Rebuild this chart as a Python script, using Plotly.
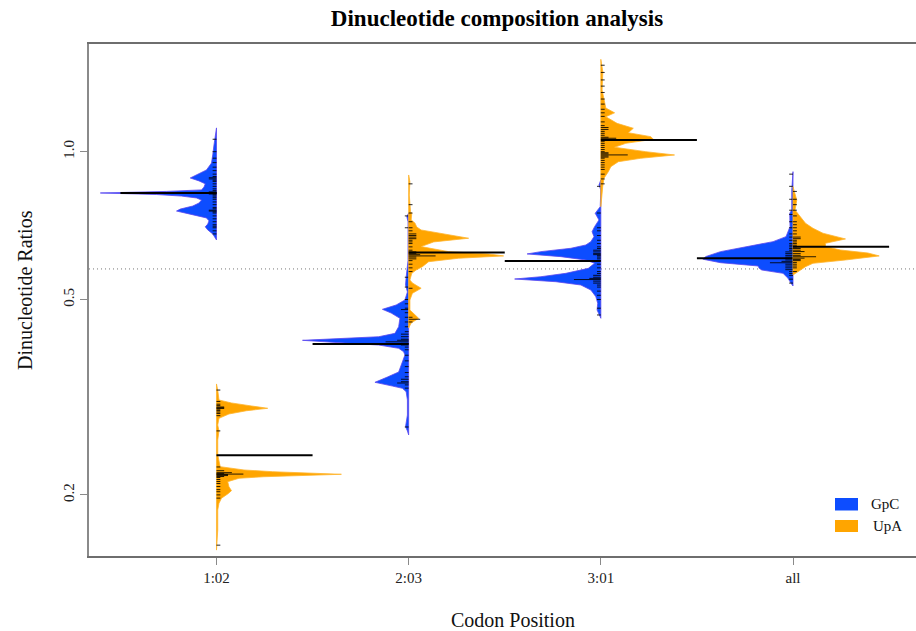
import plotly.graph_objects as go

# ---------------- data ----------------
categories = ["1:02", "2:03", "3:01", "all"]
series_names = ["GpC", "UpA"]

# density profiles (ratio value, relative density), top -> bottom
gpc_1_y = [1.118, 1.081, 1.032, 0.985, 0.948, 0.918, 0.897, 0.884, 0.872, 0.860, 0.847, 0.836, 0.830, 0.824,
           0.818, 0.812, 0.805, 0.797, 0.786, 0.775, 0.764, 0.757, 0.747, 0.733, 0.723, 0.712, 0.703, 0.693,
           0.680, 0.667, 0.661]
gpc_1_d = [0.0, 0.01, 0.02, 0.03, 0.04, 0.08, 0.16, 0.21, 0.14, 0.09, 0.10, 0.12, 0.40, 0.93,
           0.48, 0.28, 0.16, 0.12, 0.14, 0.19, 0.29, 0.32, 0.22, 0.08, 0.06, 0.07, 0.09, 0.07,
           0.03, 0.01, 0.0]

upa_1_y = [0.3365, 0.327, 0.3121, 0.3078, 0.3035, 0.3002, 0.2968, 0.2923, 0.2864, 0.2776, 0.2699, 0.2587,
           0.2412, 0.2283, 0.2248, 0.2230, 0.2203, 0.2178, 0.2162, 0.2128, 0.2078, 0.2040, 0.2009, 0.1969,
           0.1923, 0.1864, 0.1696, 0.1544]
upa_1_d = [0.0, 0.01, 0.02, 0.12, 0.28, 0.41, 0.24, 0.10, 0.02, 0.01, 0.02, 0.01,
           0.01, 0.03, 0.22, 0.45, 1.00, 0.38, 0.18, 0.09, 0.10, 0.12, 0.09, 0.04,
           0.02, 0.01, 0.01, 0.0]

gpc_2_y = [0.75, 0.7375, 0.72, 0.60, 0.5556, 0.5353, 0.518, 0.4989, 0.4873, 0.4775, 0.4693, 0.4578, 0.4401,
           0.4266, 0.4199, 0.4129, 0.4071, 0.4039, 0.3977, 0.3914, 0.3853, 0.3735, 0.3648, 0.3559, 0.3476,
           0.3391, 0.3332, 0.3297, 0.3245, 0.3121, 0.2909, 0.2754, 0.2699, 0.2649]
gpc_2_d = [0.0, 0.015, 0.005, 0.005, 0.02, 0.025, 0.01, 0.03, 0.10, 0.21, 0.14, 0.07, 0.08,
           0.11, 0.24, 0.85, 0.48, 0.24, 0.08, 0.04, 0.03, 0.05, 0.06, 0.08, 0.17,
           0.27, 0.13, 0.05, 0.02, 0.01, 0.01, 0.025, 0.01, 0.0]

upa_2_y = [0.8965, 0.8687, 0.8161, 0.779, 0.7549, 0.7491, 0.726, 0.7159, 0.7025, 0.6927, 0.6822, 0.6664,
           0.655, 0.6407, 0.6258, 0.6191, 0.6134, 0.6068, 0.597, 0.5832, 0.5742, 0.5653, 0.5479, 0.5403,
           0.527, 0.5147, 0.4989, 0.476, 0.4578, 0.4478, 0.4374]
upa_2_d = [0.0, 0.01, 0.005, 0.01, 0.015, 0.025, 0.02, 0.05, 0.065, 0.10, 0.25, 0.48,
           0.20, 0.10, 0.32, 0.64, 0.76, 0.40, 0.16, 0.11, 0.06, 0.025, 0.01, 0.03,
           0.10, 0.03, 0.01, 0.01, 0.08, 0.02, 0.0]

gpc_3_y = [0.8757, 0.8556, 0.8356, 0.7727, 0.7491, 0.726, 0.7036, 0.6873, 0.6714, 0.6558, 0.6457, 0.6357,
           0.6258, 0.6191, 0.6113, 0.6018, 0.5925, 0.5787, 0.5653, 0.5564, 0.5504, 0.5435, 0.5352, 0.5228,
           0.5067, 0.4912, 0.476, 0.4578]
gpc_3_d = [0.0, 0.015, 0.0, 0.005, 0.045, 0.015, 0.05, 0.07, 0.055, 0.08, 0.12, 0.24,
           0.48, 0.59, 0.32, 0.12, 0.05, 0.10, 0.28, 0.48, 0.69, 0.36, 0.16, 0.08,
           0.04, 0.025, 0.03, 0.0]

upa_3_y = [1.542, 1.455, 1.336, 1.274, 1.255, 1.227, 1.200, 1.178, 1.142, 1.116, 1.093, 1.073, 1.060,
           1.040, 1.021, 1.000, 0.9847, 0.9696, 0.9541, 0.9321, 0.9106, 0.8827, 0.8486, 0.7727]
upa_3_d = [0.0, 0.016, 0.01, 0.024, 0.032, 0.04, 0.11, 0.04, 0.13, 0.26, 0.22, 0.40, 0.42,
           0.20, 0.11, 0.36, 0.59, 0.32, 0.14, 0.08, 0.06, 0.025, 0.015, 0.0]

gpc_4_y = [0.9106, 0.8356, 0.7609, 0.7491, 0.7036, 0.6714, 0.6558, 0.6407, 0.6258, 0.6113, 0.6038, 0.5942,
           0.5851, 0.5787, 0.5742, 0.5653, 0.5523, 0.5395, 0.5327]
gpc_4_d = [0.0, 0.01, 0.01, 0.026, 0.024, 0.056, 0.16, 0.38, 0.58, 0.70, 0.72, 0.58,
           0.28, 0.27, 0.25, 0.08, 0.04, 0.016, 0.0]

upa_4_y = [0.8486, 0.797, 0.7609, 0.7375, 0.7148, 0.6982, 0.6822, 0.6642, 0.6508, 0.6407, 0.6306, 0.6218,
           0.6134, 0.6018, 0.5925, 0.5832, 0.5742, 0.5609]
upa_4_d = [0.0, 0.03, 0.016, 0.056, 0.10, 0.16, 0.24, 0.42, 0.26, 0.26, 0.38, 0.60,
           0.69, 0.42, 0.16, 0.10, 0.06, 0.0]

# individual observations (bean lines) and how many share each value
gpc_1_obs = [1.06, 1.00, 0.97, 0.95, 0.93, 0.915, 0.90, 0.89, 0.885, 0.88, 0.875, 0.87, 0.86, 0.85, 0.84,
             0.833, 0.828, 0.826, 0.824, 0.822, 0.82, 0.817, 0.812, 0.806, 0.80, 0.79, 0.78, 0.77, 0.765,
             0.76, 0.757, 0.754, 0.75, 0.74, 0.73, 0.72, 0.71, 0.705, 0.70, 0.69, 0.68]
gpc_1_cnt = [1, 1, 1, 1, 1, 1, 1, 1, 2, 2, 1, 1, 1, 1, 1,
             1, 2, 2, 3, 2, 2, 1, 1, 1, 1, 1, 1, 1, 1,
             2, 2, 1, 1, 1, 1, 1, 1, 1, 1, 1, 1]
upa_1_obs = [0.327, 0.310, 0.306, 0.304, 0.302, 0.301, 0.300, 0.299, 0.297, 0.295, 0.293, 0.290, 0.270,
             0.228, 0.224, 0.222, 0.221, 0.2205, 0.220, 0.219, 0.218, 0.217, 0.215, 0.213, 0.211, 0.208,
             0.205, 0.203, 0.200, 0.197, 0.158]
upa_1_cnt = [1, 1, 1, 1, 2, 2, 2, 1, 1, 1, 1, 1, 1,
             1, 2, 4, 2, 7, 3, 3, 2, 1, 1, 1, 1, 1,
             1, 1, 1, 1, 1]
gpc_2_obs = [0.74, 0.70, 0.555, 0.53, 0.50, 0.49, 0.48, 0.477, 0.47, 0.46, 0.45, 0.44, 0.43, 0.425, 0.42,
             0.415, 0.413, 0.410, 0.407, 0.404, 0.40, 0.395, 0.385, 0.375, 0.365, 0.355, 0.348, 0.344,
             0.340, 0.338, 0.335, 0.33, 0.275]
gpc_2_cnt = [1, 1, 1, 1, 1, 1, 1, 2, 1, 1, 1, 1, 1, 2, 2,
             2, 3, 6, 2, 2, 1, 1, 1, 1, 1, 1, 1, 2,
             2, 3, 1, 1, 1]
upa_2_obs = [0.86, 0.78, 0.75, 0.72, 0.70, 0.69, 0.68, 0.675, 0.67, 0.665, 0.66, 0.655, 0.65, 0.64, 0.63,
             0.625, 0.62, 0.617, 0.6134, 0.61, 0.605, 0.60, 0.59, 0.58, 0.57, 0.527, 0.46, 0.4557, 0.45]
upa_2_cnt = [1, 1, 1, 1, 1, 1, 2, 2, 2, 2, 1, 1, 1, 1, 1,
             2, 2, 3, 7, 2, 2, 1, 1, 1, 1, 1, 1, 3, 1]
gpc_3_obs = [0.85, 0.75, 0.70, 0.69, 0.675, 0.66, 0.65, 0.64, 0.635, 0.63, 0.625, 0.62, 0.617, 0.614,
             0.61, 0.605, 0.60, 0.59, 0.58, 0.57, 0.565, 0.56, 0.555, 0.552, 0.549, 0.545, 0.54, 0.535,
             0.53, 0.52, 0.51, 0.50, 0.48, 0.465]
gpc_3_cnt = [1, 1, 1, 1, 1, 1, 1, 1, 1, 2, 2, 2, 2, 1,
             1, 1, 1, 1, 1, 1, 1, 2, 2, 3, 7, 2, 2, 1,
             1, 1, 1, 1, 1, 1]
upa_3_obs = [1.50, 1.45, 1.40, 1.36, 1.32, 1.28, 1.25, 1.22, 1.20, 1.18, 1.15, 1.13, 1.12, 1.11, 1.10,
             1.09, 1.08, 1.07, 1.065, 1.06, 1.05, 1.04, 1.03, 1.02, 1.01, 1.00, 0.995, 0.99, 0.985,
             0.98, 0.975, 0.97, 0.96, 0.95, 0.94, 0.93, 0.92, 0.90, 0.88, 0.86]
upa_3_cnt = [1, 1, 1, 1, 1, 1, 1, 1, 1, 1, 1, 1, 2, 2, 1,
             1, 1, 2, 4, 2, 1, 1, 1, 1, 1, 1, 2, 2, 7,
             2, 2, 1, 1, 1, 1, 1, 1, 1, 1, 1]
gpc_4_obs = [0.90, 0.85, 0.80, 0.76, 0.745, 0.72, 0.70, 0.68, 0.67, 0.66, 0.65, 0.645, 0.64, 0.635, 0.63,
             0.625, 0.62, 0.615, 0.61, 0.606, 0.602, 0.598, 0.594, 0.59, 0.585, 0.58, 0.575, 0.57, 0.565,
             0.56, 0.55, 0.54]
gpc_4_cnt = [1, 1, 1, 1, 1, 1, 1, 1, 1, 1, 1, 1, 1, 1, 1,
             2, 2, 2, 2, 2, 2, 3, 6, 2, 2, 2, 2, 1, 1,
             1, 1, 1]
upa_4_obs = [0.83, 0.80, 0.78, 0.76, 0.74, 0.72, 0.71, 0.70, 0.69, 0.68, 0.67, 0.665, 0.66, 0.655, 0.65,
             0.645, 0.64, 0.635, 0.63, 0.626, 0.62, 0.615, 0.611, 0.607, 0.603, 0.60, 0.595, 0.59, 0.585,
             0.58, 0.57]
upa_4_cnt = [1, 1, 1, 1, 1, 1, 1, 1, 1, 1, 2, 2, 1, 1, 1,
             1, 1, 2, 2, 3, 2, 2, 6, 3, 2, 2, 1, 1, 1,
             1, 1]

gpc_means = [0.824, 0.406, 0.599, 0.607]
upa_means = [0.241, 0.623, 1.056, 0.640]
overall_mean = 0.577

y_ticks = [0.2, 0.5, 1.0]
y_tick_labels = ["0.2", "0.5", "1.0"]

# ---------------- styling ----------------
FONT = "Liberation Serif, Times New Roman, serif"
BLUE = "#0d4dff"
BLUE_EDGE = "#5a46f0"
ORANGE = "#ffa500"
ORANGE_EDGE = "#ffb52e"
WIDTH = 0.65      # x-units for relative density 1.0
UNIT = 0.02       # bean line length per observation
MEAN_LEN = 0.5
X_RANGE = [0.3366, 4.64]
Y_RANGE = [-0.8234, 0.2193]

gpc_profiles = [(gpc_1_y, gpc_1_d), (gpc_2_y, gpc_2_d), (gpc_3_y, gpc_3_d), (gpc_4_y, gpc_4_d)]
upa_profiles = [(upa_1_y, upa_1_d), (upa_2_y, upa_2_d), (upa_3_y, upa_3_d), (upa_4_y, upa_4_d)]
gpc_lines = [(gpc_1_obs, gpc_1_cnt), (gpc_2_obs, gpc_2_cnt), (gpc_3_obs, gpc_3_cnt), (gpc_4_obs, gpc_4_cnt)]
upa_lines = [(upa_1_obs, upa_1_cnt), (upa_2_obs, upa_2_cnt), (upa_3_obs, upa_3_cnt), (upa_4_obs, upa_4_cnt)]

fig = go.Figure()

# overall mean (dotted)
fig.add_trace(go.Scatter(x=X_RANGE, y=[overall_mean, overall_mean], mode="lines",
                         line=dict(color="#777777", width=1, dash="1px,3px"),
                         hoverinfo="skip", showlegend=False))

for side, profiles, lines, means, fill, edge, name in [
        (-1, gpc_profiles, gpc_lines, gpc_means, BLUE, BLUE_EDGE, series_names[0]),
        (1, upa_profiles, upa_lines, upa_means, ORANGE, ORANGE_EDGE, series_names[1])]:
    for i, cat in enumerate(categories):
        pos = i + 1
        ys, ds = profiles[i]
        xs = [pos + side * d * WIDTH for d in ds] + [pos, pos]
        yy = list(ys) + [ys[-1], ys[0]]
        fig.add_trace(go.Scatter(x=xs, y=yy, mode="lines", fill="toself", fillcolor=fill,
                                 line=dict(color=edge, width=0.8), name=name,
                                 hoverinfo="skip", showlegend=False))
    for i, cat in enumerate(categories):
        pos = i + 1
        obs, cnt = lines[i]
        lx, ly = [], []
        for v, c in zip(obs, cnt):
            lx += [pos, pos + side * c * UNIT, None]
            ly += [v, v, None]
        fig.add_trace(go.Scatter(x=lx, y=ly, mode="lines", line=dict(color="rgba(0,0,0,0.85)", width=1),
                                 hoverinfo="skip", showlegend=False))
    mx, my = [], []
    for i, m in enumerate(means):
        pos = i + 1
        mx += [pos, pos + side * MEAN_LEN, None]
        my += [m, m, None]
    fig.add_trace(go.Scatter(x=mx, y=my, mode="lines", line=dict(color="black", width=2),
                             hoverinfo="skip", showlegend=False))

# geometry helpers for paper coords
W, H = 916, 631
ML, MR, MT, MB = 89, 0, 44, 75
PW, PH = W - ML - MR, H - MT - MB


def px(xp):
    return (xp - ML) / PW


def py(yp):
    return (H - MB - yp) / PH


shapes = [
    dict(type="rect", xref="paper", yref="paper", x0=px(835), x1=px(858), y0=py(510.5), y1=py(498),
         fillcolor=BLUE, line=dict(width=0)),
    dict(type="rect", xref="paper", yref="paper", x0=px(835), x1=px(858), y0=py(532), y1=py(520),
         fillcolor=ORANGE, line=dict(width=0)),
]

annotations = [
    dict(text="GpC", xref="paper", yref="paper", x=px(869), y=py(504), xanchor="left", yanchor="middle",
         showarrow=False, font=dict(family=FONT, size=15, color="#111")),
    dict(text="UpA", xref="paper", yref="paper", x=px(871), y=py(526), xanchor="left", yanchor="middle",
         showarrow=False, font=dict(family=FONT, size=15, color="#111")),
    dict(text="Codon Position", xref="paper", yref="paper", x=px(513), y=py(620), xanchor="center",
         yanchor="middle", showarrow=False, font=dict(family=FONT, size=20, color="#111")),
    dict(text="Dinucleotide Ratios", xref="paper", yref="paper", x=px(25), y=py(290), xanchor="center",
         yanchor="middle", textangle=-90, showarrow=False, font=dict(family=FONT, size=20, color="#111")),
]

fig.update_layout(
    width=W, height=H,
    margin=dict(l=ML, r=MR, t=MT, b=MB),
    paper_bgcolor="white", plot_bgcolor="white",
    title=dict(text="<b>Dinucleotide composition analysis</b>", x=px(497), xref="paper", xanchor="center",
               y=1 - 18 / H, yref="container", yanchor="middle",
               font=dict(family=FONT, size=23, color="black")),
    shapes=shapes, annotations=annotations,
    showlegend=False,
)

fig.update_xaxes(range=X_RANGE, tickmode="array", tickvals=[1, 2, 3, 4], ticktext=categories,
                 showgrid=False, zeroline=False, showline=True, mirror=True, linecolor="#6e6e6e",
                 linewidth=1.5, ticks="outside", ticklen=7, tickcolor="#8a8a8a", tickwidth=1.2,
                 tickfont=dict(family=FONT, size=15, color="#222"))
fig.update_yaxes(type="log", range=Y_RANGE, tickmode="array", tickvals=y_ticks, ticktext=y_tick_labels,
                 showgrid=False, zeroline=False, showline=True, mirror=False, linecolor="#8a8a8a",
                 linewidth=1.5, ticks="outside", ticklen=7, tickcolor="#8a8a8a", tickwidth=1.2,
                 tickangle=-90, tickfont=dict(family=FONT, size=15, color="#222"))

fig.write_html("out.html")
